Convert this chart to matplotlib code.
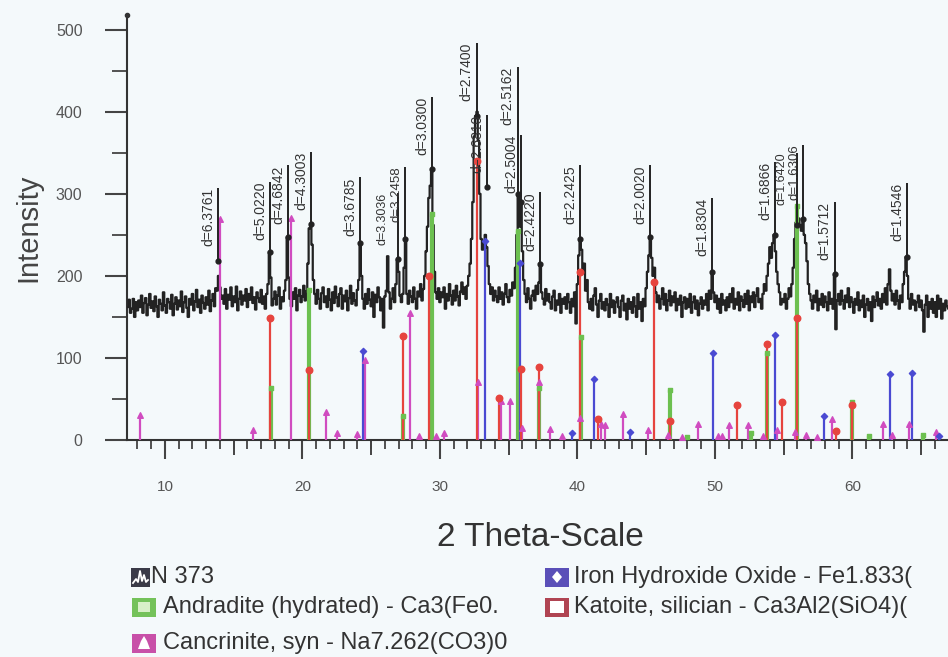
import numpy as np
import matplotlib
matplotlib.use("Agg")
import matplotlib.pyplot as plt
from matplotlib.patches import Rectangle, Polygon
from matplotlib.transforms import blended_transform_factory

plt.rcParams['font.family'] = ['Liberation Sans', 'DejaVu Sans']

# ---------------- data ----------------
scan_start = 7.3
scan_step = 0.1
intensity = [
    162, 171, 155, 160, 172, 150, 168,
    158, 170, 162, 176, 155, 167, 173, 152, 165, 178,
    161, 169, 157, 175, 163, 150, 171, 166, 158, 180,
    164, 155, 172, 168, 160, 177, 152, 166, 174, 159,
    170, 163, 181, 156, 168, 175, 161, 150, 172, 165,
    178, 158, 169, 183, 162, 171, 155, 176, 167, 160,
    174, 165, 182, 157, 170, 178, 163, 185, 182, 200,
    186, 172, 176, 166, 184, 160, 177, 171, 186, 163,
    175, 168, 187, 158, 172, 181, 165, 176, 170, 184,
    162, 178, 171, 186, 167, 174, 159, 180, 173, 168,
    183, 166, 175, 160, 178, 190, 229, 198, 164, 172,
    181, 165, 176, 186, 160, 174, 169, 182, 195, 247,
    198, 172, 163, 180, 172, 185, 158, 176, 183, 168,
    175, 188, 170, 181, 215, 258, 263, 238, 195, 178,
    166, 183, 172, 160, 179, 186, 168, 175, 162, 184,
    171, 158, 180, 167, 187, 174, 163, 178, 185, 160,
    176, 169, 182, 158, 173, 188, 166, 179, 170, 164,
    183, 195, 240, 200, 172, 160, 178, 166, 184, 171,
    163, 180, 150, 177, 168, 186, 174, 158, 172, 137,
    175, 182, 224, 180, 160, 172, 185, 168, 190, 220,
    205, 176, 168, 178, 210, 245, 178, 166, 182, 175,
    168, 186, 172, 160, 181, 175, 190, 170, 184, 200,
    230, 260, 295, 310, 330, 262, 205, 180, 172, 185,
    168, 180, 174, 186, 160, 178, 170, 190, 176, 165,
    182, 170, 188, 175, 164, 181, 192, 178, 186, 172,
    188, 200, 215, 245, 290, 370, 395, 400, 365, 300,
    245, 232, 240, 250, 235, 212, 190, 178, 186, 170,
    182, 175, 168, 186, 172, 180, 165, 178, 190, 174,
    168, 183, 176, 192, 185, 210, 250, 300, 260, 290,
    230, 195, 178, 168, 185, 172, 160, 176, 182, 170,
    188, 178, 192, 214, 180, 172, 165, 184, 170, 178,
    168, 160, 175, 182, 158, 170, 165, 178, 155, 172,
    166, 174, 160, 178, 168, 155, 172, 163, 180, 142,
    190, 225, 245, 232, 205, 215, 182, 195, 168, 160,
    172, 158, 176, 185, 165, 150, 170, 178, 160, 168,
    158, 172, 165, 150, 178, 162, 170, 155, 168, 174,
    162, 150, 170, 176, 158, 166, 147, 172, 160, 168,
    155, 174, 163, 150, 178, 160, 168, 145, 172, 163,
    185, 205, 225, 247, 222, 200, 210, 180, 168, 176,
    160, 172, 185, 165, 178, 158, 170, 182, 164, 175,
    168, 180, 158, 172, 165, 176, 150, 168, 174, 160,
    172, 162, 178, 155, 168, 175, 160, 170, 152, 166,
    174, 160, 170, 165, 178, 158, 182, 172, 205, 180,
    168, 176, 160, 172, 155, 178, 165, 170, 158, 174,
    162, 178, 168, 185, 160, 172, 165, 180, 158, 175,
    170, 162, 178, 166, 182, 158, 175, 168, 180, 162,
    176, 185, 168, 172, 160, 178, 190, 182, 200, 215,
    235, 222, 240, 250, 230, 205, 190, 180, 165, 172,
    168, 178, 160, 172, 185, 175, 190, 210, 245, 265,
    258, 270, 262, 255, 269, 250, 240, 218, 190, 178,
    170, 160, 176, 168, 182, 158, 172, 165, 178, 162,
    175, 168, 158, 180, 166, 172, 160, 202, 135, 170,
    178, 165, 182, 170, 160, 176, 168, 185, 162, 174,
    168, 155, 172, 165, 180, 158, 170, 162, 176, 150,
    165, 172, 158, 168, 145, 175, 162, 170, 180, 164,
    172, 160, 178, 168, 185, 165, 190, 208, 182, 170,
    178, 165, 182, 170, 160, 176, 168, 190, 205, 223,
    200, 172, 160, 178, 165, 170, 158, 168, 176, 162,
    170, 158, 132, 165, 176, 150, 168, 160, 172, 155,
    168, 150, 176, 160, 172, 148, 166, 158, 170, 163,
    160,
]

# labelled peaks: position, d-spacing label, peak intensity, label line top
peak_pos = [13.88, 17.65, 18.93, 20.64, 24.18, 26.97, 27.46, 29.45, 32.66, 33.40,
            35.65, 35.90, 37.30, 40.19, 45.26, 49.80, 54.35, 55.95, 56.40, 58.70, 63.95]
peak_label = ["d=6.3761", "d=5.0220", "d=4.6842", "d=4.3003", "d=3.6785", "d=3.3036",
              "d=3.2458", "d=3.0300", "d=2.7400", "d=2.6810", "d=2.5162", "d=2.5004",
              "d=2.4220", "d=2.2425", "d=2.0020", "d=1.8304", "d=1.6866", "d=1.6420",
              "d=1.6306", "d=1.5712", "d=1.4546"]
peak_int = [218, 229, 247, 263, 240, 220, 245, 330, 395, 308,
            300, 290, 214, 245, 247, 205, 250, 262, 269, 202, 223]
peak_top = [307, 315, 335, 351, 320, 301, 333, 418, 484, 396,
            455, 372, 302, 335, 335, 295, 339, 350, 360, 290, 313]

# reference patterns (position, relative intensity)
cancrinite_pos = [8.2, 14.0, 16.4, 19.2, 21.7, 22.5, 24.0, 24.55, 27.8, 28.5, 29.7, 30.3,
                  32.75, 34.45, 35.1, 36.0, 37.2, 38.0, 38.9, 40.15, 41.7, 42.0, 43.3, 45.1,
                  46.6, 47.6, 48.8, 50.2, 50.5, 51.0, 52.4, 53.5, 54.5, 55.8, 56.6, 57.4,
                  58.5, 62.2, 62.9, 64.1, 66.1]
cancrinite_int = [30, 269, 12, 271, 34, 8, 7, 97, 155, 5, 5, 8,
                  71, 48, 48, 15, 71, 14, 5, 27, 20, 18, 32, 12,
                  6, 4, 20, 5, 5, 18, 18, 5, 12, 10, 6, 4,
                  25, 19, 6, 19, 10]
katoite_pos = [17.65, 20.5, 27.3, 29.2, 32.72, 34.3, 35.9, 37.2, 40.15, 41.5, 45.6, 46.7,
               51.6, 53.8, 54.9, 56.0, 58.8, 60.0]
katoite_int = [149, 85, 127, 200, 340, 51, 86, 89, 205, 25, 192, 23,
               43, 117, 46, 149, 11, 43]
iron_pos = [24.4, 33.3, 35.8, 39.6, 41.2, 43.8, 49.85, 54.4, 57.96, 62.75, 64.3, 66.3]
iron_int = [108, 242, 216, 9, 74, 10, 106, 128, 29, 80, 82, 5]
andradite_pos = [17.7, 20.5, 27.3, 29.4, 35.7, 37.2, 40.25, 46.7, 48.0, 52.6, 53.75, 56.0,
                 60.0, 61.2, 65.1]
andradite_int = [63, 183, 29, 275, 255, 63, 126, 61, 4, 8, 106, 285, 46, 5, 6]

legend_labels = ["N 373", "Iron Hydroxide Oxide - Fe1.833(", "Andradite (hydrated) - Ca3(Fe0.",
                 "Katoite, silician - Ca3Al2(SiO4)(", "Cancrinite, syn - Na7.262(CO3)0"]

# ---------------- figure ----------------
W, H = 948, 657
bg = '#f4f9fb'
fig = plt.figure(figsize=(W / 100, H / 100), dpi=100, facecolor=bg)
ax = fig.add_axes([127 / W, 1 - 440 / H, (W - 127) / W, (440 - 15) / H])
ax.set_facecolor(bg)

two_theta = np.round(scan_start + scan_step * np.arange(len(intensity)), 2)
ax.plot(two_theta, intensity, color='#222222', lw=1.6, drawstyle='steps-mid', zorder=3)

c_green, c_red, c_blue, c_mag = '#6cc050', '#e6443e', '#4a4ad2', '#d04cc0'

ax.vlines(andradite_pos, 0, andradite_int, colors=c_green, lw=3.0, zorder=4)
ax.scatter(andradite_pos, andradite_int, marker='s', s=10, color=c_green, zorder=5)
ax.vlines(cancrinite_pos, 0, cancrinite_int, colors=c_mag, lw=1.6, zorder=4)
ax.scatter(cancrinite_pos, cancrinite_int, marker='^', s=16, color=c_mag, zorder=5)
ax.vlines(iron_pos, 0, iron_int, colors=c_blue, lw=1.6, zorder=4)
ax.scatter(iron_pos, iron_int, marker='D', s=10, color=c_blue, zorder=5)
ax.vlines(katoite_pos, 0, katoite_int, colors=c_red, lw=1.6, zorder=4)
ax.scatter(katoite_pos, katoite_int, marker='o', s=22, color=c_red, zorder=5)

ax.vlines(peak_pos, peak_int, peak_top, colors='#222222', lw=1.4, zorder=6)
ax.scatter(peak_pos, peak_int, marker='o', s=12, color='#222222', zorder=7)
label_dx = {"d=3.3036": -7.0, "d=1.6420": -7.0}
label_fs = {"d=3.3036": 9.0, "d=1.6420": 9.0, "d=3.2458": 9.5, "d=1.6306": 9.5}
for p, lab, top in zip(peak_pos, peak_label, peak_top):
    ax.annotate(lab, xy=(p, top), xytext=(label_dx.get(lab, -2), 0), textcoords='offset points',
                rotation=90, ha='right', va='top', fontsize=label_fs.get(lab, 10),
                color='#333333', zorder=8)

ax.set_xlim(7.24, 66.95)
ax.set_ylim(0, 518)
for s in ['top', 'right']:
    ax.spines[s].set_visible(False)
for s in ['left', 'bottom']:
    ax.spines[s].set_color('#333333')
    ax.spines[s].set_linewidth(1.5)
ax.plot([7.24], [518], 'o', ms=3, color='#333333', clip_on=False, zorder=9)

ax.set_xticks(np.arange(10, 61, 10))
ax.set_xticks(np.arange(8, 67, 1), minor=True)
ax.set_yticks(np.arange(0, 501, 100))
ax.set_yticks(np.arange(50, 501, 100), minor=True)
ax.tick_params(axis='x', which='major', length=13.7, width=1.5, color='#444444',
               labelsize=11, labelcolor='#555555', pad=15)
ax.tick_params(axis='x', which='minor', length=6.5, width=1.3, color='#444444')
ax.tick_params(axis='y', which='major', length=16, width=1.5, color='#444444',
               labelsize=11.5, labelcolor='#555555', pad=16)
ax.tick_params(axis='y', which='minor', length=11, width=1.3, color='#444444')

# medium ticks at the fives
trans = blended_transform_factory(ax.transData, ax.transAxes)
five_ticks = [15, 25, 35, 45, 55, 65]
ax.vlines(five_ticks, 0, -15 / 425, colors='#444444', lw=1.4, transform=trans, clip_on=False)

fig.text(28 / W, 1 - 228 / H, "Intensity", rotation=90, ha='center', va='center',
         fontsize=21, color='#444444')
fig.text(540 / W, 1 - 538 / H, "2 Theta-Scale", ha='center', va='center',
         fontsize=24, color='#333333')

# ---------------- legend ----------------
lax = fig.add_axes([0, 0, 1, 1])
lax.set_xlim(0, W)
lax.set_ylim(H, 0)
lax.axis('off')
lax.patch.set_alpha(0)

rows = [577, 607, 643]
entries = [
    (131, rows[0], '#3a3a48', 'wave', 151, legend_labels[0]),
    (545, rows[0], '#5a4fb8', 'diamond', 574, legend_labels[1]),
    (132, rows[1], '#74c25a', 'square_light', 163, legend_labels[2]),
    (545, rows[1], '#b04452', 'square_white', 574, legend_labels[3]),
    (132, rows[2], '#c850a8', 'bell', 163, legend_labels[4]),
]
for x0, yc, col, kind, tx, lab in entries:
    w = 19 if kind == 'wave' else 24
    h = 19
    lax.add_patch(Rectangle((x0, yc - h / 2), w, h, facecolor=col, edgecolor='none'))
    if kind == 'wave':
        lax.plot([x0 + 2, x0 + 5, x0 + 7, x0 + 9, x0 + 11, x0 + 13, x0 + 15, x0 + 17],
                 [yc + 6, yc + 2, yc + 5, yc - 6, yc + 4, yc - 2, yc + 5, yc + 3],
                 color='white', lw=1.3)
    elif kind == 'diamond':
        lax.add_patch(Polygon([[x0 + 12, yc - 6], [x0 + 17, yc], [x0 + 12, yc + 6], [x0 + 7, yc]],
                              facecolor='white', edgecolor='none'))
    elif kind == 'square_light':
        lax.add_patch(Rectangle((x0 + 6, yc - 5), 12, 10, facecolor='#d8f0c8', edgecolor='none'))
    elif kind == 'square_white':
        lax.add_patch(Rectangle((x0 + 5, yc - 6), 14, 12, facecolor='white', edgecolor='none'))
    elif kind == 'bell':
        lax.add_patch(Polygon([[x0 + 12, yc - 7], [x0 + 15, yc - 2], [x0 + 18, yc + 6],
                               [x0 + 6, yc + 6], [x0 + 9, yc - 2]],
                              facecolor='white', edgecolor='none'))
    lax.text(tx, yc, lab, ha='left', va='center', fontsize=17, color='#333333')

fig.savefig('out.png', dpi=100, facecolor=bg)
